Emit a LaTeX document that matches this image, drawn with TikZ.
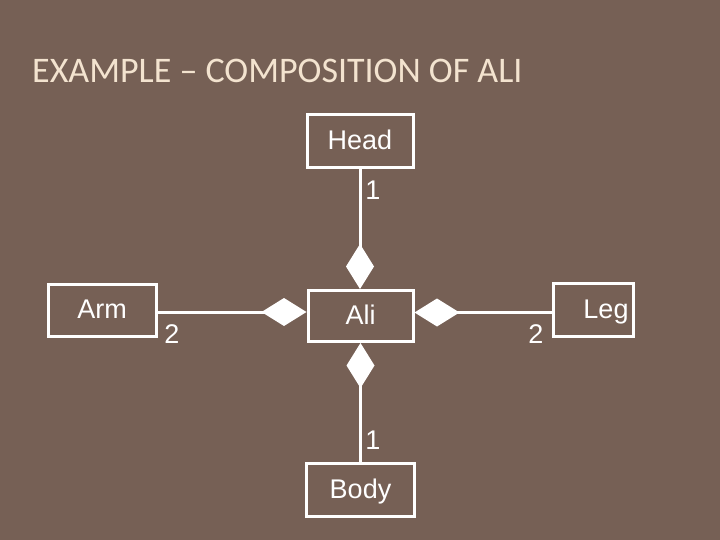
\documentclass[tikz,border=0pt]{standalone}
\usepackage{fontspec}
\setmainfont{Liberation Sans}
\newfontfamily\titlefont{Carlito}
\usetikzlibrary{arrows.meta}
\definecolor{bg}{HTML}{766055}
\definecolor{titlecol}{HTML}{F3E3CF}
\tikzset{
  umlbox/.style={draw=white, line width=3pt, text=white, font=\fontsize{27}{30}\selectfont, inner sep=0pt, text height=17pt, text depth=0pt},
  comp/.style={draw=white, line width=3pt, -{Diamond[length=45pt,width=28pt,fill=white,line width=0pt]}},
  multlabel/.style={text=white, font=\fontsize{27}{30}\selectfont, inner sep=0pt}
}
\begin{document}
\begin{tikzpicture}[x=1pt,y=-1pt]
\fill[bg] (0,0) rectangle (720,540);
\useasboundingbox (0,0) rectangle (720,540);
\node[anchor=west, text=titlecol, font=\titlefont\fontsize{36}{40}\selectfont, inner sep=0pt] (title) at (32,71) {EXAMPLE – COMPOSITION OF ALI};
\node[umlbox, minimum width=106pt, minimum height=53pt] (head) at (360,141) {Head};
\node[umlbox, minimum width=105pt, minimum height=51pt] (ali) at (360.5,316) {Ali};
\node[umlbox, minimum width=108pt, minimum height=52pt] (arm) at (102,310) {Arm};
\node[umlbox, minimum width=80pt, minimum height=53pt] (leg) at (593,309.5) {\hspace*{26pt}Leg};
\node[umlbox, minimum width=108pt, minimum height=53pt] (body) at (360.5,489.5) {Body};
\draw[comp] (head.south) -- (ali.north -| head.south);
\draw[comp] (body.north) -- (ali.south -| body.north);
\draw[comp] (arm.east) ++(0,2) coordinate (armout) -- (armout -| ali.west);
\draw[comp] (leg.west) ++(0,3) coordinate (legout) -- (legout -| ali.east);
\node[multlabel] (l1) at (373,190) {1};
\node[multlabel] (l2) at (373,440) {1};
\node[multlabel] (l3) at (172,334) {2};
\node[multlabel] (l4) at (536,334) {2};
\end{tikzpicture}
\end{document}
